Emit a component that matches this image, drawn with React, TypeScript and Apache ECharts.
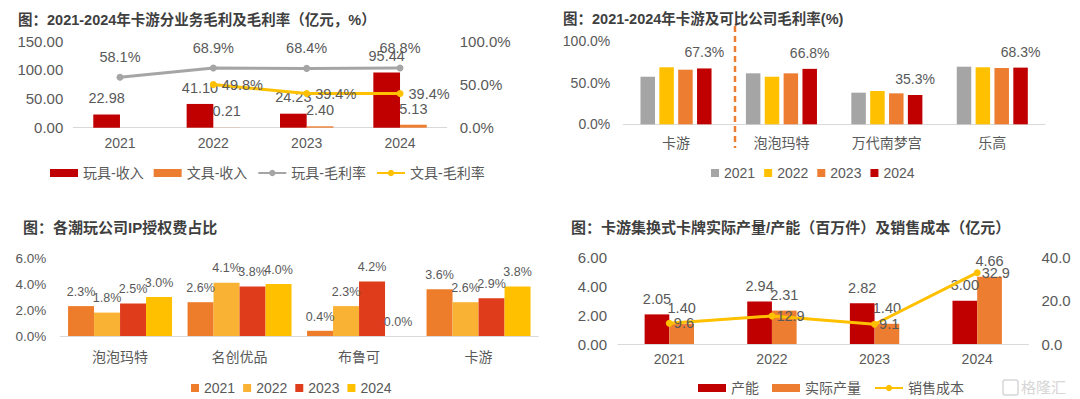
import React, { useEffect, useRef } from 'react';
import * as echarts from 'echarts';

const FONT = "'Liberation Sans', 'Noto Sans CJK SC', sans-serif";
const TITLE_FONT = "'Liberation Sans', 'Noto Sans CJK SC', sans-serif";
const TEXT = '#595959';
const TITLE = '#3F3F3F';

// ---------- Chart 1: 卡游分业务毛利及毛利率 ----------
const years = ['2021', '2022', '2023', '2024'];
const toyRevenue = [22.98, 41.10, 24.23, 95.44];
const stationeryRevenue = [null, 0.21, 2.40, 5.13];
const toyMargin = [58.1, 68.9, 68.4, 68.8];
const stationeryMargin = [null, 49.8, 39.4, 39.4];

// ---------- Chart 2: 卡游及可比公司毛利率 ----------
const companies2 = ['卡游', '泡泡玛特', '万代南梦宫', '乐高'];
const gm2021 = [57.3, 61.4, 38.1, 69.4];
const gm2022 = [68.7, 57.3, 40.1, 68.7];
const gm2023 = [65.8, 61.4, 37.3, 67.8];
const gm2024 = [67.3, 66.8, 35.3, 68.3];

// ---------- Chart 3: 各潮玩公司IP授权费占比 ----------
const companies3 = ['泡泡玛特', '名创优品', '布鲁可', '卡游'];
const ip2021 = [2.3, 2.6, 0.4, 3.6];
const ip2022 = [1.8, 4.1, 2.3, 2.6];
const ip2023 = [2.5, 3.8, 4.2, 2.9];
const ip2024 = [3.0, 4.0, 0.0, 3.8];

// ---------- Chart 4: 卡游集换式卡牌实际产量/产能及销售成本 ----------
const capacity = [2.05, 2.94, 2.82, 3.00];
const actualOutput = [1.40, 2.31, 1.40, 4.66];
const salesCost = [9.6, 12.9, 9.1, 32.9];

const C_RED = '#C00000';
const C_ORANGE = '#ED7D31';
const C_GRAY = '#A5A5A5';
const C_YELLOW = '#FFC000';
const C3 = ['#EE7D2B', '#F9B233', '#DE3C1B', '#FFC000'];

const fmt = (d: number, suffix = '') => (p: any) => {
  const v = Array.isArray(p.value) ? p.value[1] : p.value;
  return v === null || v === undefined || v === '-' ? '' : Number(v).toFixed(d) + suffix;
};

const xCat = (gridIndex: number, data: string[], margin: number, fontSize = 14) => ({
  type: 'category',
  gridIndex,
  data,
  axisLine: { show: true, lineStyle: { color: '#D9D9D9', width: 1 } },
  axisTick: { show: false },
  axisLabel: { color: TEXT, fontSize, fontFamily: FONT, margin },
});

const yVal = (
  gridIndex: number,
  max: number,
  interval: number,
  formatter: (v: number) => string,
  position: string,
  margin: number,
  fontSize = 14
) => ({
  type: 'value',
  gridIndex,
  min: 0,
  max,
  interval,
  position,
  axisLine: { show: false },
  axisTick: { show: false },
  splitLine: { show: false },
  axisLabel: { color: TEXT, fontSize, fontFamily: FONT, formatter, margin },
});

const labelStyle = (fontSize = 14) => ({ color: TEXT, fontSize, fontFamily: FONT });

export default function App() {
  const ref = useRef<HTMLDivElement>(null);

  useEffect(() => {
    if (!ref.current) return;
    const chart = echarts.init(ref.current, undefined, { renderer: 'svg' });

    const option: any = {
      animation: false,
      backgroundColor: '#FFFFFF',
      title: [
        {
          text: '图：2021-2024年卡游分业务毛利及毛利率（亿元，%）',
          left: 13,
          top: 8,
          textStyle: { color: TITLE, fontSize: 14.5, fontWeight: 'bold', fontFamily: TITLE_FONT },
        },
        {
          text: '图：2021-2024年卡游及可比公司毛利率(%)',
          left: 558,
          top: 7,
          textStyle: { color: TITLE, fontSize: 14.5, fontWeight: 'bold', fontFamily: TITLE_FONT },
        },
        {
          text: '图：各潮玩公司IP授权费占比',
          left: 18,
          top: 215,
          textStyle: { color: TITLE, fontSize: 15, fontWeight: 'bold', fontFamily: TITLE_FONT },
        },
        {
          text: '图：卡游集换式卡牌实际产量/产能（百万件）及销售成本（亿元）',
          left: 566,
          top: 215,
          textStyle: { color: TITLE, fontSize: 15, fontWeight: 'bold', fontFamily: TITLE_FONT },
        },
      ],
      legend: [
        {
          data: [
            { name: '玩具-收入', icon: 'rect' },
            { name: '文具-收入', icon: 'rect' },
            { name: '玩具-毛利率' },
            { name: '文具-毛利率' },
          ],
          left: 45,
          top: 161,
          itemWidth: 28,
          itemHeight: 8,
          itemGap: 10,
          selectedMode: false,
          textStyle: labelStyle(14),
        },
        {
          data: ['A2021', 'A2022', 'A2023', 'A2024'].map((n) => ({ name: n, icon: 'rect' })),
          formatter: (n: string) => n.slice(1),
          left: 706,
          top: 161,
          itemWidth: 8,
          itemHeight: 8,
          itemGap: 9,
          selectedMode: false,
          textStyle: labelStyle(14),
        },
        {
          data: ['B2021', 'B2022', 'B2023', 'B2024'].map((n) => ({ name: n, icon: 'rect' })),
          formatter: (n: string) => n.slice(1),
          left: 186,
          top: 376,
          itemWidth: 8,
          itemHeight: 8,
          itemGap: 8,
          selectedMode: false,
          textStyle: labelStyle(14),
        },
        {
          data: [
            { name: '产能', icon: 'rect' },
            { name: '实际产量', icon: 'rect' },
            { name: '销售成本' },
          ],
          left: 693,
          top: 376,
          itemWidth: 28,
          itemHeight: 8,
          itemGap: 13,
          selectedMode: false,
          textStyle: labelStyle(14),
        },
      ],
      grid: [
        { left: 73.3, top: 41, width: 373.4, height: 86.7, containLabel: false },
        { left: 623.3, top: 41.3, width: 421.7, height: 83, containLabel: false },
        { left: 60.3, top: 258, width: 478, height: 78, containLabel: false },
        { left: 618, top: 257.3, width: 410.5, height: 86.7, containLabel: false },
      ],
      xAxis: [
        xCat(0, years, 8.6),
        xCat(1, companies2, 12),
        xCat(2, companies3, 13.5),
        xCat(3, years, 8.4),
      ],
      yAxis: [
        yVal(0, 150, 50, (v) => v.toFixed(2), 'left', 10, 15),
        yVal(0, 100, 50, (v) => v.toFixed(1) + '%', 'right', 13, 15),
        yVal(1, 100, 50, (v) => v.toFixed(1) + '%', 'left', 13, 14),
        yVal(2, 6, 2, (v) => v.toFixed(1) + '%', 'left', 14, 13.5),
        yVal(3, 6, 2, (v) => v.toFixed(2), 'left', 11, 15),
        yVal(3, 40, 20, (v) => v.toFixed(1), 'right', 13, 15),
      ],
      series: [
        // ----- Chart 1 -----
        {
          name: '玩具-收入',
          type: 'bar',
          xAxisIndex: 0,
          yAxisIndex: 0,
          data: toyRevenue,
          barWidth: 26.7,
          barGap: '0%',
          itemStyle: { color: C_RED },
          label: { show: true, position: 'top', distance: 9, formatter: fmt(2), ...labelStyle(14.5) },
        },
        {
          name: '文具-收入',
          type: 'bar',
          xAxisIndex: 0,
          yAxisIndex: 0,
          data: stationeryRevenue,
          barWidth: 26.7,
          barGap: '0%',
          itemStyle: { color: C_ORANGE },
          label: { show: true, position: 'top', distance: 9, formatter: fmt(2), ...labelStyle(14.5) },
        },
        {
          name: '玩具-毛利率',
          type: 'line',
          xAxisIndex: 0,
          yAxisIndex: 1,
          data: toyMargin,
          symbol: 'circle',
          symbolSize: 7,
          lineStyle: { color: C_GRAY, width: 3 },
          itemStyle: { color: C_GRAY },
          label: { show: true, position: 'top', distance: 9.5, formatter: fmt(1, '%'), ...labelStyle(14.5) },
        },
        {
          name: '文具-毛利率',
          type: 'line',
          xAxisIndex: 0,
          yAxisIndex: 1,
          data: stationeryMargin,
          symbol: 'circle',
          symbolSize: 7,
          lineStyle: { color: C_YELLOW, width: 3 },
          itemStyle: { color: C_YELLOW },
          label: { show: true, position: 'right', distance: 5, formatter: fmt(1, '%'), ...labelStyle(14.5) },
        },
        // ----- Chart 2 -----
        ...[gm2021, gm2022, gm2023, gm2024].map((d, i) => ({
          name: 'A' + years[i],
          type: 'bar',
          xAxisIndex: 1,
          yAxisIndex: 2,
          data: d,
          barWidth: 14.5,
          barGap: '30%',
          itemStyle: { color: [C_GRAY, C_YELLOW, C_ORANGE, C_RED][i] },
          label:
            i === 3
              ? { show: true, position: 'top', distance: 9, formatter: fmt(1, '%'), ...labelStyle(14) }
              : { show: false },
        })),
        // ----- Chart 3 -----
        ...[ip2021, ip2022, ip2023, ip2024].map((d, i) => ({
          name: 'B' + years[i],
          type: 'bar',
          xAxisIndex: 2,
          yAxisIndex: 3,
          data: d,
          barWidth: 26,
          barGap: '0%',
          itemStyle: { color: C3[i] },
          label: { show: true, position: 'top', distance: 8, formatter: fmt(1, '%'), ...labelStyle(12.5) },
        })),
        // ----- Chart 4 -----
        {
          name: '产能',
          type: 'bar',
          xAxisIndex: 3,
          yAxisIndex: 4,
          data: capacity,
          barWidth: 24.7,
          barGap: '0%',
          itemStyle: { color: C_RED },
          label: { show: true, position: 'top', distance: 8.5, formatter: fmt(2), ...labelStyle(14.5) },
        },
        {
          name: '实际产量',
          type: 'bar',
          xAxisIndex: 3,
          yAxisIndex: 4,
          data: actualOutput,
          barWidth: 24.7,
          barGap: '0%',
          itemStyle: { color: C_ORANGE },
          label: { show: true, position: 'top', distance: 8.5, formatter: fmt(2), ...labelStyle(14.5) },
        },
        {
          name: '销售成本',
          type: 'line',
          xAxisIndex: 3,
          yAxisIndex: 5,
          data: salesCost,
          symbol: 'circle',
          symbolSize: 7,
          lineStyle: { color: C_YELLOW, width: 3 },
          itemStyle: { color: C_YELLOW },
          label: { show: true, position: 'right', distance: 1, formatter: fmt(1), ...labelStyle(14.5) },
        },
      ],
      graphic: [
        {
          type: 'line',
          shape: { x1: 735, y1: 26, x2: 735, y2: 148 },
          style: { stroke: C_ORANGE, lineWidth: 2.5, lineDash: [6, 4] },
          silent: true,
        },
        {
          type: 'rect',
          shape: { x: 1003, y: 380, width: 15, height: 15, r: 2 },
          style: { fill: 'none', stroke: '#D6D6D6', lineWidth: 1.5 },
          silent: true,
        },
        {
          type: 'text',
          x: 1021,
          y: 387.5,
          style: {
            text: '格隆汇',
            fill: '#D6D6D6',
            fontSize: 15,
            fontFamily: FONT,
            verticalAlign: 'middle',
          },
          silent: true,
        },
      ],
    };

    chart.setOption(option);
    return () => chart.dispose();
  }, []);

  return (
    <div
      ref={ref}
      style={{ position: 'absolute', left: 0, top: 0, width: 1080, height: 399, background: '#fff' }}
    />
  );
}
